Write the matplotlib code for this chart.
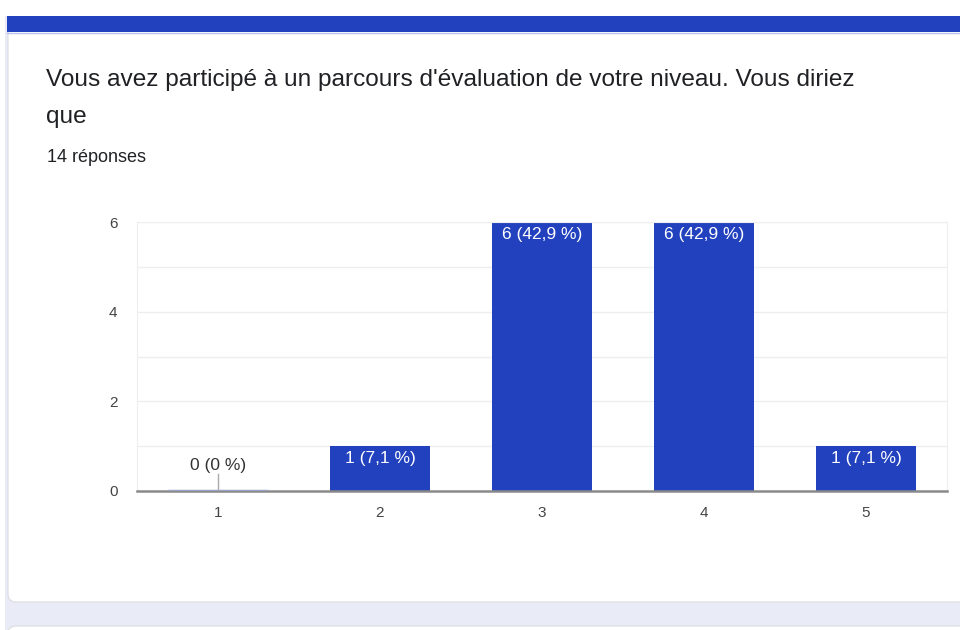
import matplotlib.pyplot as plt
from matplotlib.patches import Rectangle, FancyBboxPatch

# ----------------------------------------------------------------------------
# Data
# ----------------------------------------------------------------------------
title_lines = ["Vous avez participé à un parcours d'évaluation de votre "
               "niveau. Vous diriez", "que"]
categories = ['1', '2', '3', '4', '5']
counts = [0, 1, 6, 6, 1]
yticks = [0, 2, 4, 6]

# ----------------------------------------------------------------------------
# Styles
# ----------------------------------------------------------------------------
W, H = 960, 630
bar_col = '#2241be'
page_col = '#e9ecf7'
text_col = '#202124'
tick_col = '#444444'
plt.rcParams['font.family'] = ['Liberation Sans', 'DejaVu Sans']

fig = plt.figure(figsize=(W / 100, H / 100), dpi=100)
fig.patch.set_facecolor('white')

# background "page" drawn in pixel coordinates
bg = fig.add_axes([0, 0, 1, 1], zorder=0)
bg.set_xlim(0, W)
bg.set_ylim(H, 0)
bg.axis('off')
bg.add_patch(Rectangle((5, 16), W, H, facecolor=page_col, edgecolor='none'))
bg.add_patch(FancyBboxPatch((8, 10), W + 20, 592,
                            boxstyle='round,pad=0,rounding_size=8',
                            facecolor='white', edgecolor='#dadce0', lw=0.8))
bg.add_patch(FancyBboxPatch((8, 626), W + 20, 40,
                            boxstyle='round,pad=0,rounding_size=8',
                            facecolor='white', edgecolor='#dadce0', lw=0.8))
bg.add_patch(Rectangle((0, 0), W, 16, facecolor='white', edgecolor='none'))
bg.add_patch(Rectangle((7, 16), W, 16, facecolor=bar_col, edgecolor='none'))
bg.plot([7, W], [32.5, 32.5], color='#b8c3ea', lw=1)
for k, line in enumerate(title_lines):
    bg.text(46, 80 + 37 * k, line, fontsize=17.6, color=text_col,
            va='center')
bg.text(47, 158, f'{sum(counts)} réponses', fontsize=13, color=text_col,
        va='center')

# ----------------------------------------------------------------------------
# Chart
# ----------------------------------------------------------------------------
left, right, top, bottom = 137, 947, 222, 491
ax = fig.add_axes([left / W, (H - bottom) / H, (right - left) / W,
                   (bottom - top) / H], zorder=1)
ax.set_facecolor('none')
x = range(len(categories))
bars = ax.bar(x, counts, width=0.62, color=bar_col, zorder=2)
ax.set_xlim(-0.5, len(categories) - 0.5)
ax.set_ylim(0, 6)
ax.set_yticks(yticks)
ax.set_yticks(range(0, 7), minor=True)
ax.grid(axis='y', which='both', color='#eeeeee', lw=1, zorder=0)
ax.set_xticks(list(x))
ax.set_xticklabels(categories)
ax.tick_params(which='both', length=0, labelsize=11, labelcolor=tick_col)
ax.tick_params(axis='x', pad=11)
ax.tick_params(axis='y', pad=14)
for s in ['top', 'right', 'left']:
    ax.spines[s].set_color('#eeeeee')
ax.spines['bottom'].set_color('#8a8a8a')
ax.spines['bottom'].set_linewidth(1.8)
ax.spines['bottom'].set_zorder(3)

total = sum(counts)
for i, v in enumerate(counts):
    pct = v / total * 100
    ptxt = f'{pct:.1f}'.replace('.', ',').replace(',0', '')
    label = f'{v} ({ptxt} %)'
    if v > 0:
        ax.annotate(label, (i, v), xytext=(0, -3.5), textcoords='offset points',
                    ha='center', va='top', color='white', fontsize=12.5,
                    zorder=4)
    else:
        ax.plot([i - 0.31, i + 0.31], [0, 0], color='#9aa3c4', lw=2.5,
                zorder=4, solid_capstyle='butt')
        ax.plot([i, i], [0, 0.38], color='#aaaaaa', lw=1, zorder=4)
        ax.annotate(label, (i, 0.40), ha='center', va='bottom',
                    color='#333333', fontsize=12.5, zorder=4)

fig.savefig('out.png', dpi=100)
